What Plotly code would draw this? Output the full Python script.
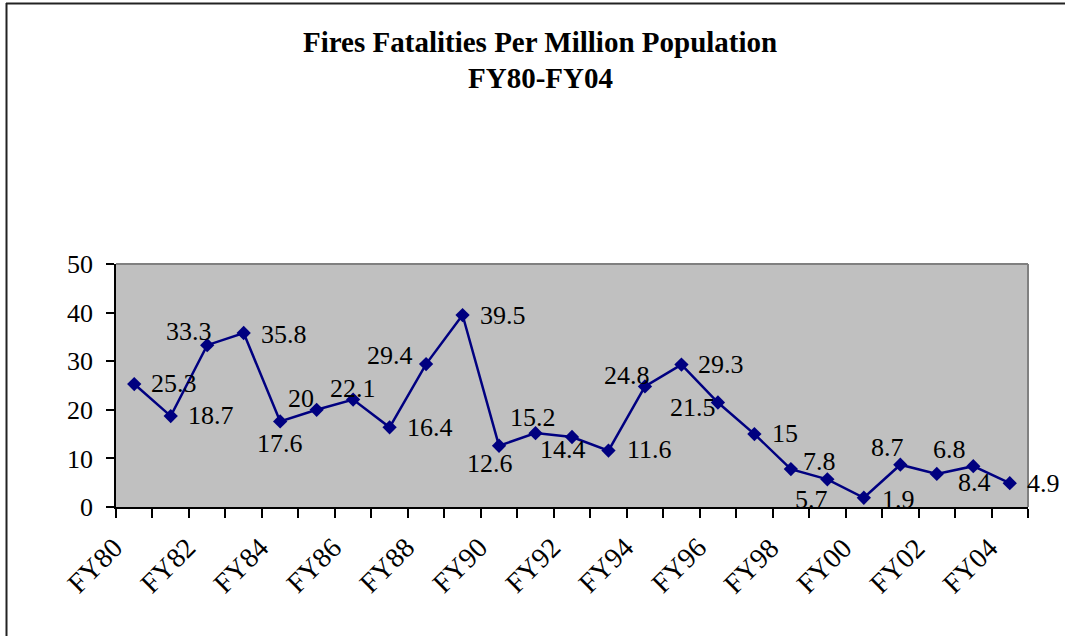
import plotly.graph_objects as go

categories = ["FY80", "FY81", "FY82", "FY83", "FY84", "FY85", "FY86", "FY87", "FY88",
              "FY89", "FY90", "FY91", "FY92", "FY93", "FY94", "FY95", "FY96", "FY97",
              "FY98", "FY99", "FY00", "FY01", "FY02", "FY03", "FY04"]
fatalities = [25.3, 18.7, 33.3, 35.8, 17.6, 20, 22.1, 16.4, 29.4, 39.5, 12.6, 15.2, 14.4,
              11.6, 24.8, 29.3, 21.5, 15, 7.8, 5.7, 1.9, 8.7, 6.8, 8.4, 4.9]
tick_labels = categories[::2]
y_ticks = [0, 10, 20, 30, 40, 50]
title_lines = ["Fires Fatalities Per Million Population", "FY80-FY04"]

# label offsets in screen pixels (dx right, dy up), layout only
label_offsets = [(40, 1), (40, 1), (-18, 14), (40, -1), (0, -22), (-16, 11), (0, 11),
                 (40, 0), (-36, 9), (40, 0), (-9, -18), (-3, 16), (-9, -12), (41, 1),
                 (-18, 11), (40, 0), (-25, -5), (31, 1), (29, 8), (-16, -20), (35, -2),
                 (-13, 17), (13, 24), (1, -16), (34, 0)]

W, H = 1065, 636
L, R, T, B = 116, 1028, 264, 507

idx = list(range(len(categories)))
fig = go.Figure()
fig.add_trace(go.Scatter(
    x=idx, y=fatalities, mode="lines+markers",
    line=dict(color="#000080", width=2.5),
    marker=dict(symbol="diamond", size=11, color="#000080"),
    hoverinfo="skip", showlegend=False, cliponaxis=False,
))

font_fam = "Liberation Serif, Times New Roman, serif"
for i, v in enumerate(fatalities):
    dx, dy = label_offsets[i]
    fig.add_annotation(x=i, y=v, text=f"{v:g}", showarrow=False, xshift=dx, yshift=dy,
                       xanchor="center", yanchor="middle",
                       font=dict(family=font_fam, size=26, color="black"))

# rotated category labels (every other category)
for k, lab in enumerate(tick_labels):
    fig.add_annotation(x=idx[::2][k], y=0, text=lab, showarrow=False, textangle=-45,
                       xanchor="right", yanchor="top", xshift=-3, yshift=-22,
                       font=dict(family=font_fam, size=28, color="black"))

def px_x(p):
    return (p - L) / (R - L)

def px_y(p):
    return (B - p) / (B - T)

# title
fig.add_annotation(xref="paper", yref="paper", x=px_x(540), y=px_y(42), text=f"<b>{title_lines[0]}</b>",
                   showarrow=False, xanchor="center", yanchor="middle",
                   font=dict(family=font_fam, size=29, color="black"))
fig.add_annotation(xref="paper", yref="paper", x=px_x(540), y=px_y(78), text=f"<b>{title_lines[1]}</b>",
                   showarrow=False, xanchor="center", yanchor="middle",
                   font=dict(family=font_fam, size=29, color="black"))

# plot area top/right gray border
fig.add_shape(type="line", xref="paper", yref="paper", x0=0, x1=1, y0=1, y1=1,
              line=dict(color="#808080", width=2))
fig.add_shape(type="line", xref="paper", yref="paper", x0=1, x1=1, y0=0, y1=1,
              line=dict(color="#808080", width=2))
# chart outer border (top and left)
fig.add_shape(type="line", xref="paper", yref="paper", x0=px_x(6), x1=px_x(1070),
              y0=px_y(3.5), y1=px_y(3.5), line=dict(color="#222222", width=2))
fig.add_shape(type="line", xref="paper", yref="paper", x0=px_x(6.5), x1=px_x(6.5),
              y0=px_y(3), y1=px_y(640), line=dict(color="#222222", width=2))

fig.update_layout(
    width=W, height=H,
    margin=dict(l=L, r=W - R, t=T, b=H - B),
    paper_bgcolor="white", plot_bgcolor="#C0C0C0",
    font=dict(family=font_fam, color="black"),
)
fig.update_xaxes(
    range=[-0.5, len(categories) - 0.5], tickmode="array",
    tickvals=idx[::2], ticktext=tick_labels, showticklabels=False,
    ticks="", showgrid=False, zeroline=False,
    showline=True, linecolor="black", linewidth=1.5,
    minor=dict(tick0=-0.5, dtick=1, ticks="outside", ticklen=9, tickcolor="black",
               tickwidth=1.5, showgrid=False),
)
fig.update_yaxes(
    range=[0, 50], tickmode="array", tickvals=y_ticks,
    ticks="outside", ticklen=8, tickcolor="black", tickwidth=1.5,
    showgrid=False, zeroline=False, showline=True, linecolor="black", linewidth=1.5,
    tickfont=dict(family=font_fam, size=26, color="black"),
    ticklabelstandoff=8,
)

fig.write_html("out.html")
